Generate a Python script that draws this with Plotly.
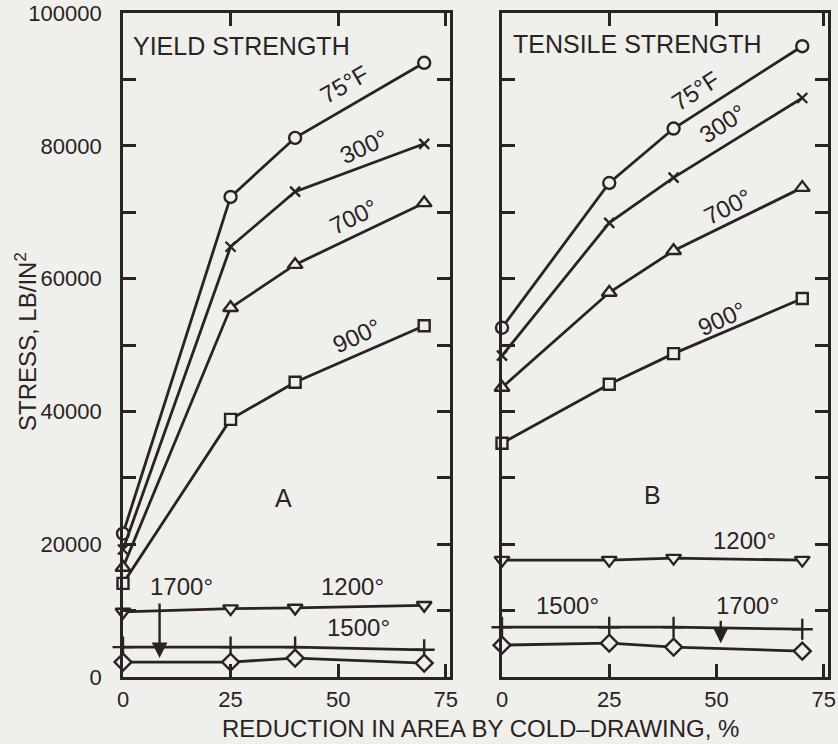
import plotly.graph_objects as go

# ---------------- data ----------------
reduction = [0, 25, 40, 70]

temps = ["75°F", "300°", "700°", "900°", "1200°", "1500°", "1700°"]

yield_75 = [21600, 72300, 81200, 92500]
yield_300 = [19200, 64800, 73100, 80300]
yield_700 = [16500, 55600, 62100, 71400]
yield_900 = [14100, 38800, 44400, 52900]
yield_1200 = [9800, 10300, 10400, 10800]
yield_1500 = [4500, 4500, 4500, 4100]
yield_1700 = [2250, 2250, 2850, 2100]

tensile_75 = [52600, 74400, 82600, 95000]
tensile_300 = [48400, 68400, 75200, 87200]
tensile_700 = [43600, 57900, 64200, 73700]
tensile_900 = [35200, 44100, 48700, 57000]
tensile_1200 = [17600, 17600, 17900, 17600]
tensile_1500 = [7500, 7500, 7500, 7200]
tensile_1700 = [4800, 5100, 4500, 3900]

y_tickvals = list(range(0, 100001, 10000))
y_ticktext = ["0", "", "20000", "", "40000", "", "60000", "", "80000", "", "100000"]
x_tickvals = [0, 25, 50, 75]
x_ticktext = ["0", "25", "50", "75"]

# ---------------- style ----------------
BG = "#efefec"
INK = "#2b2323"
TEXTFONT = "Liberation Sans, Arial, sans-serif"
NUMFONT = "Liberation Sans, Arial, sans-serif"

symbols = ["circle", "x-thin-open", "triangle-up", "square", "triangle-down",
           "cross-thin-open", "diamond"]
sizes = [12, 10, 13, 11, 13, 15, 13]

fig = go.Figure()

yield_series = [yield_75, yield_300, yield_700, yield_900, yield_1200, yield_1500, yield_1700]
tensile_series = [tensile_75, tensile_300, tensile_700, tensile_900, tensile_1200, tensile_1500, tensile_1700]

for series, xa, ya in [(yield_series, "x", "y"), (tensile_series, "x2", "y2")]:
    for name, vals, sym, sz in zip(temps, series, symbols, sizes):
        fill = INK if sym.endswith("open") else BG
        fig.add_trace(go.Scatter(
            x=reduction, y=vals, name=name, xaxis=xa, yaxis=ya,
            mode="lines+markers",
            line=dict(color=INK, width=2.8),
            marker=dict(symbol=sym, size=sz, color=fill,
                        line=dict(color=INK, width=2.4)),
            showlegend=False, cliponaxis=False, hoverinfo="skip",
        ))

axis_common = dict(
    showline=True, linecolor=INK, linewidth=2.8, mirror="ticks",
    ticks="inside", ticklen=13, tickwidth=2.5, tickcolor=INK,
    showgrid=False, zeroline=False, ticklabeloverflow="allow", automargin=False,
)

fig.update_layout(
    width=838, height=744,
    paper_bgcolor=BG, plot_bgcolor=BG,
    margin=dict(l=0, r=0, t=0, b=0),
    xaxis=dict(domain=[123/838, 450/838], range=[0, 76], tickvals=x_tickvals,
               ticktext=x_ticktext, anchor="y", ticklabelstandoff=1,
               tickfont=dict(family=NUMFONT, size=22, color=INK), **axis_common),
    xaxis2=dict(domain=[502/838, 828/838], range=[0, 76], tickvals=x_tickvals,
                ticktext=x_ticktext, anchor="y2", ticklabelstandoff=1,
                tickfont=dict(family=NUMFONT, size=22, color=INK), **axis_common),
    yaxis=dict(domain=[1-677/744, 1-13/744], range=[0, 100000], tickvals=y_tickvals,
               ticktext=y_ticktext, anchor="x", ticklabelstandoff=14,
               tickfont=dict(family=NUMFONT, size=22, color=INK), **axis_common),
    yaxis2=dict(domain=[1-677/744, 1-13/744], range=[0, 100000], tickvals=y_tickvals,
                showticklabels=False, anchor="x2", **axis_common),
)

# ---------------- labels ----------------
def label(text, x, y, xref, yref, angle=0, size=25, family=TEXTFONT):
    fig.add_annotation(text=text, x=x, y=y, xref=xref, yref=yref, showarrow=False,
                       textangle=angle, xanchor="center", yanchor="middle",
                       font=dict(family=family, size=size, color=INK))

label("YIELD STRENGTH", 27.5, 95000, "x", "y")
label("TENSILE STRENGTH", 31.5, 95400, "x2", "y2")

curve_labels_a = [("75°F", 51.4, 89200, -30), ("300°", 56.0, 79900, -24),
                  ("700°", 53.7, 69300, -26), ("900°", 54.4, 51400, -25),
                  ("1700°", 13.5, 13700, 0), ("1200°", 53.3, 13700, 0),
                  ("1500°", 54.7, 7500, 0)]
curve_labels_b = [("75°F", 45.2, 88300, -33), ("300°", 51.5, 83300, -33),
                  ("700°", 52.7, 70800, -27), ("900°", 51.3, 54000, -24),
                  ("1200°", 56.6, 20500, 0), ("1500°", 15.2, 10700, 0),
                  ("1700°", 57.3, 10700, 0)]
for t, x, y, a in curve_labels_a:
    label(t, x, y, "x", "y", a, 24, NUMFONT)
for t, x, y, a in curve_labels_b:
    label(t, x, y, "x2", "y2", a, 24, NUMFONT)

label("A", 37.2, 26900, "x", "y")
label("B", 35.2, 27400, "x2", "y2")

# pointers for the 1700° curves
pointer_a = dict(x=8.5, tip=2850, tail=11300)
pointer_b = dict(x=51, tip=5100, tail=8700)
for p, xr, yr in [(pointer_a, "x", "y"), (pointer_b, "x2", "y2")]:
    fig.add_annotation(x=p["x"], y=p["tip"], ax=p["x"], ay=p["tail"],
                       xref=xr, yref=yr, axref=xr, ayref=yr, text="",
                       showarrow=True, arrowhead=2, arrowsize=1.3,
                       arrowwidth=2.4, arrowcolor=INK)

# axis titles
fig.add_annotation(text="STRESS, LB/IN<sup>2</sup>", x=26/838, y=1-342/744,
                   xref="paper", yref="paper", showarrow=False, textangle=-90,
                   xanchor="center", yanchor="middle",
                   font=dict(family=TEXTFONT, size=24, color=INK))
fig.add_annotation(text="REDUCTION IN AREA BY COLD–DRAWING, %", x=480/838, y=1-728/744,
                   xref="paper", yref="paper", showarrow=False,
                   xanchor="center", yanchor="middle",
                   font=dict(family=TEXTFONT, size=24, color=INK))

fig.write_html("out.html",
               config={"displayModeBar": False},
               post_script="document.body.style.margin='0';"
                           "document.body.style.background='%s';" % BG)
